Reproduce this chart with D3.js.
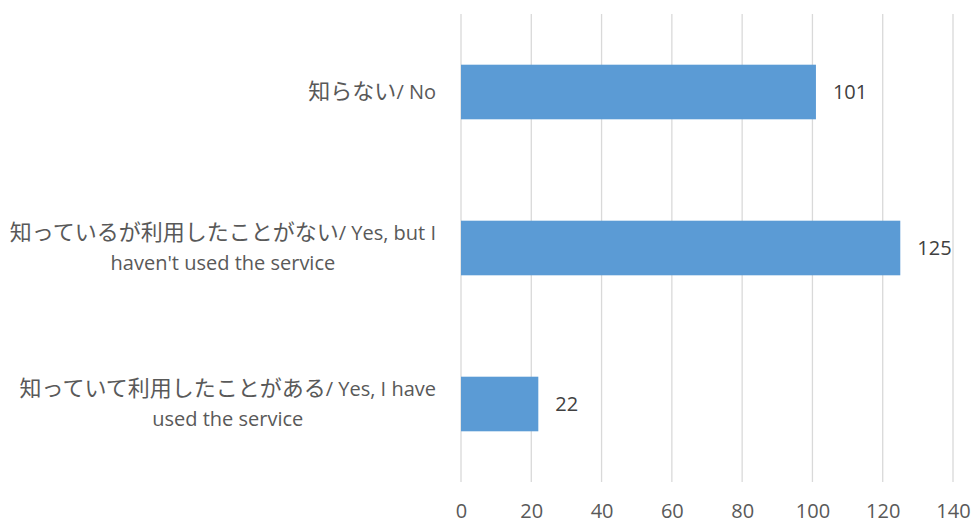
<!DOCTYPE html>
<html>
<head>
<meta charset="utf-8">
<script src="https://cdn.jsdelivr.net/npm/d3@7"></script>
<style>
  body { margin: 0; background: #fff; }
  text { font-family: "Open Sans", "Noto Sans CJK JP", sans-serif; }
</style>
</head>
<body>
<svg id="chart" width="974" height="523"></svg>
<script>
// data
let categories = [
    ["知らない/ No"],
    ["知っているが利用したことがない/ Yes, but I", "haven't used the service"],
    ["知っていて利用したことがある/ Yes, I have", "used the service"]
];
let values = [101, 125, 22];
let ticks = [0, 20, 40, 60, 80, 100, 120, 140];

let svg = d3.select("#chart");
let plotL = 461, plotR = 953, plotT = 14, plotB = 482;

let x = d3.scaleLinear().domain([0, 140]).range([plotL, plotR]);
let y = d3.scaleBand().domain(d3.range(categories.length))
    .range([plotT, plotB]).paddingInner(0.65).paddingOuter(0.325);

// vertical gridlines
svg.append("g").selectAll("line").data(ticks).enter().append("line")
    .attr("x1", d => x(d)).attr("x2", d => x(d))
    .attr("y1", plotT).attr("y2", plotB)
    .attr("stroke", "#d9d9d9").attr("stroke-width", 1.3);

// x axis labels
let xAxis = d3.axisBottom(x).tickValues(ticks).tickSize(0).tickPadding(0);
let ax = svg.append("g").attr("transform", "translate(0," + 504 + ")").call(xAxis);
ax.select(".domain").remove();
ax.selectAll("text").attr("fill", "#595959").style("font-size", "20px")
    .style("font-family", "'Open Sans', sans-serif");

// bars
svg.append("g").selectAll("rect").data(values).enter().append("rect")
    .attr("x", x(0)).attr("y", (d, i) => y(i))
    .attr("width", d => x(d) - x(0)).attr("height", y.bandwidth())
    .attr("fill", "#5b9bd5");

// value labels
svg.append("g").selectAll("text").data(values).enter().append("text")
    .attr("x", d => x(d) + 17).attr("y", (d, i) => y(i) + y.bandwidth() / 2)
    .attr("dy", "0.35em").attr("fill", "#404040").style("font-size", "20px")
    .text(d => d);

// category labels: block right-aligned, lines centered inside block
// japanese part a bit bigger than latin part, like the fallback font in the original
let lineH = 30;
categories.forEach((lines, i) => {
    let g = svg.append("g");
    let cy = y(i) + y.bandwidth() / 2;
    let texts = lines.map((t, j) => {
        let txt = g.append("text")
            .attr("y", cy + (j - (lines.length - 1) / 2) * lineH)
            .attr("dy", "0.35em").attr("fill", "#595959")
            .style("font-size", "20px").attr("text-anchor", "middle");
        let parts = t.match(/[\u3000-\u9fff]+|[^\u3000-\u9fff]+/g);
        parts.forEach(p => {
            let jp = /[\u3000-\u9fff]/.test(p);
            txt.append("tspan").style("font-size", jp ? "22px" : "20px")
                .style("font-family", jp ? "'Noto Sans CJK JP'" : "'Open Sans'")
                .text(p);
        });
        return txt;
    });
    let w = d3.max(texts, t => t.node().getComputedTextLength());
    let cx = 436 - w / 2;
    texts.forEach(t => t.attr("x", cx));
});
</script>
</body>
</html>
